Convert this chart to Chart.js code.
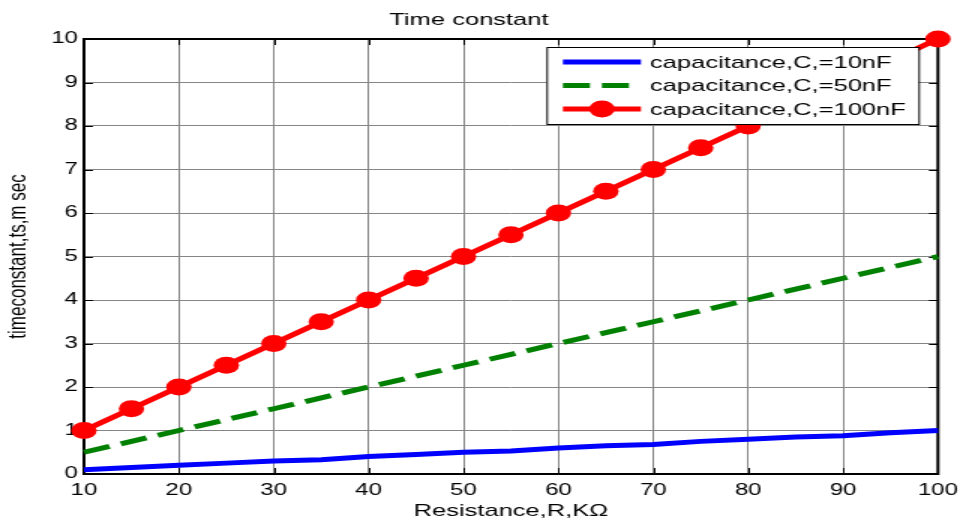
<!doctype html>
<html>
    <head>
        <title>Time constant</title>
        <script src="https://cdn.jsdelivr.net/npm/chart.js@4/dist/chart.umd.min.js"></script>
        <style>
            html, body { margin: 0; padding: 0; overflow: hidden; background: #fff; }
            /* the source figure is stretched 1.5x horizontally */
            #wrap { width: 640px; height: 522px; transform: scaleX(1.5); transform-origin: 0 0; }
        </style>
    </head>

    <body>
        <div id="wrap"><canvas id="myChart"></canvas></div>
        <script>
            const resistance = [10, 15, 20, 25, 30, 35, 40, 45, 50, 55, 60, 65, 70, 75, 80, 85, 90, 95, 100];
            const tc10nF = [0.1, 0.15, 0.2, 0.25, 0.3, 0.33, 0.4, 0.45, 0.5, 0.53, 0.6, 0.65, 0.68, 0.75, 0.8, 0.85, 0.88, 0.95, 1.0];
            const tc50nF = [0.5, 0.75, 1.0, 1.25, 1.5, 1.75, 2.0, 2.25, 2.5, 2.75, 3.0, 3.25, 3.5, 3.75, 4.0, 4.25, 4.5, 4.75, 5.0];
            const tc100nF = [1, 1.5, 2, 2.5, 3, 3.5, 4, 4.5, 5, 5.5, 6, 6.5, 7, 7.5, 8, 8.5, 9, 9.5, 10];
            const seriesLabels = ['capacitance,C,=10nF', 'capacitance,C,=50nF', 'capacitance,C,=100nF'];

            function points(values) {
                return resistance.map(function (r, i) { return {x: r, y: values[i]}; });
            }

            var FONT = 'Liberation Sans, Arial, Helvetica, sans-serif';

            // inward ticks, plot box and the boxed legend inside the axes
            var frame = {
                id: 'frame',
                beforeDatasetsDraw: function (chart) {
                    var ctx = chart.ctx, a = chart.chartArea;
                    var xs = chart.scales.x, ys = chart.scales.y;
                    ctx.save();
                    ctx.strokeStyle = '#000';
                    ctx.lineWidth = 1;
                    ctx.beginPath();
                    xs.ticks.forEach(function (t) {
                        var px = Math.round(xs.getPixelForValue(t.value)) + 0.5;
                        ctx.moveTo(px, a.bottom); ctx.lineTo(px, a.bottom - 6);
                        ctx.moveTo(px, a.top); ctx.lineTo(px, a.top + 6);
                    });
                    ys.ticks.forEach(function (t) {
                        var py = Math.round(ys.getPixelForValue(t.value)) + 0.5;
                        ctx.moveTo(a.left, py); ctx.lineTo(a.left + 6, py);
                        ctx.moveTo(a.right, py); ctx.lineTo(a.right - 6, py);
                    });
                    ctx.stroke();
                    ctx.lineWidth = 2;
                    ctx.strokeRect(a.left, a.top, a.right - a.left, a.bottom - a.top);
                    ctx.restore();
                },
                afterDatasetsDraw: function (chart) {
                    var ctx = chart.ctx, a = chart.chartArea;
                    var left = a.right - 261, top = a.top + 8, w = 248, h = 77;
                    ctx.save();
                    ctx.fillStyle = '#fff';
                    ctx.fillRect(left, top, w, h);
                    ctx.strokeStyle = '#000';
                    ctx.lineWidth = 1;
                    ctx.strokeRect(left + 0.5, top + 0.5, w, h);
                    ctx.font = '17px ' + FONT;
                    ctx.textBaseline = 'middle';
                    chart.data.datasets.forEach(function (ds, i) {
                        var y = top + 15 + i * 23.5;
                        ctx.strokeStyle = ds.borderColor;
                        ctx.lineWidth = ds.borderWidth;
                        ctx.setLineDash(ds.borderDash || []);
                        ctx.beginPath();
                        ctx.moveTo(left + 11, y);
                        ctx.lineTo(left + 63, y);
                        ctx.stroke();
                        ctx.setLineDash([]);
                        if (ds.pointRadius > 0) {
                            ctx.fillStyle = ds.pointBackgroundColor;
                            ctx.beginPath();
                            ctx.arc(left + 37, y, ds.pointRadius, 0, Math.PI * 2);
                            ctx.fill();
                        }
                        ctx.fillStyle = '#000';
                        ctx.fillText(ds.label, left + 69, y + 1);
                    });
                    ctx.restore();
                }
            };

            var ctx = document.getElementById('myChart').getContext('2d');
            var myChart = new Chart(ctx, {
                type: 'line',
                data: {
                    datasets: [{
                        label: seriesLabels[0],
                        data: points(tc10nF),
                        borderColor: '#0000ff',
                        borderWidth: 5,
                        pointRadius: 0
                    }, {
                        label: seriesLabels[1],
                        data: points(tc50nF),
                        borderColor: '#008000',
                        borderWidth: 5,
                        borderDash: [18, 8],
                        pointRadius: 0
                    }, {
                        label: seriesLabels[2],
                        data: points(tc100nF),
                        borderColor: '#ff0000',
                        borderWidth: 5,
                        pointRadius: 8.5,
                        pointBackgroundColor: '#ff0000',
                        pointBorderWidth: 0
                    }]
                },
                options: {
                    responsive: true,
                    maintainAspectRatio: false,
                    animation: false,
                    clip: false,
                    layout: { padding: { left: 0, right: 14.7, top: 0, bottom: 0 } },
                    plugins: {
                        legend: { display: false },
                        tooltip: { enabled: false },
                        title: {
                            display: true,
                            text: 'Time constant',
                            color: '#000',
                            font: { family: FONT, size: 17, weight: 'normal', lineHeight: 1.1 },
                            padding: { top: 11, bottom: 9.3 }
                        }
                    },
                    scales: {
                        x: {
                            type: 'linear',
                            min: 10,
                            max: 100,
                            afterFit: function (s) {
                                s.height = 48;
                                s.paddingLeft = 0;
                                s.paddingRight = 0;
                            },
                            ticks: {
                                stepSize: 10,
                                autoSkip: false,
                                maxRotation: 0,
                                padding: 7,
                                color: '#000',
                                font: { family: FONT, size: 16 }
                            },
                            grid: { color: '#858585', lineWidth: 1, drawTicks: false },
                            border: { display: false },
                            title: {
                                display: true,
                                text: 'Resistance,R,KΩ',
                                color: '#000',
                                font: { family: FONT, size: 17 },
                                padding: { top: 0, bottom: 0 }
                            }
                        },
                        y: {
                            min: 0,
                            max: 10,
                            afterFit: function (s) {
                                s.width = 56;
                                s.paddingTop = 0;
                                s.paddingBottom = 0;
                            },
                            ticks: {
                                stepSize: 1,
                                padding: 4,
                                color: '#000',
                                font: { family: FONT, size: 16 }
                            },
                            grid: { color: '#858585', lineWidth: 1, drawTicks: false },
                            border: { display: false },
                            title: {
                                display: true,
                                text: 'timeconstant,ts,m sec',
                                color: '#000',
                                font: { family: FONT, size: 17 },
                                padding: { top: 2, bottom: 0 }
                            }
                        }
                    }
                },
                plugins: [frame]
            });
        </script>
    </body>

</html>
